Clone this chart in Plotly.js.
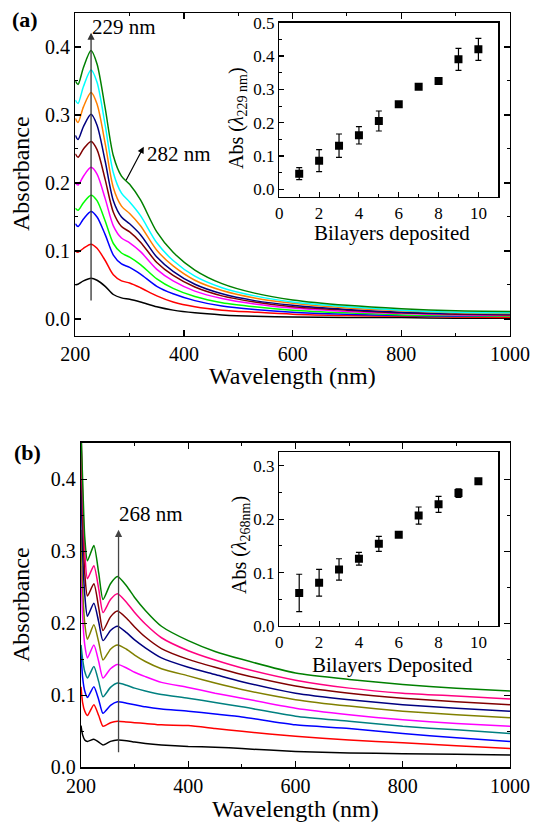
<!DOCTYPE html>
<html>
<head>
<meta charset="utf-8">
<script src="https://cdn.plot.ly/plotly-3.0.1.min.js"></script>
<style>html,body{margin:0;padding:0;background:#fff;}#chart{width:536px;height:826px;}</style>
</head>
<body>
<div id="chart"></div>
<script>
// ---------- Panel (a) spectra ----------
const wlA = [200,205,215,229,240,255,270,285,300,320,350,380,420,470,530,600,700,800,900,1000];
const absA1  = [0.050,0.051,0.056,0.060,0.057,0.048,0.036,0.031,0.029,0.025,0.018,0.013,0.009,0.006,0.004,0.003,0.002,0.002,0.001,0.001];
const absA2  = [0.100,0.098,0.104,0.110,0.104,0.086,0.065,0.056,0.053,0.046,0.034,0.025,0.018,0.013,0.010,0.007,0.005,0.004,0.003,0.002];
const absA3  = [0.140,0.136,0.147,0.158,0.150,0.124,0.094,0.081,0.076,0.066,0.048,0.037,0.027,0.019,0.014,0.010,0.007,0.005,0.004,0.004];
const absA4  = [0.163,0.160,0.171,0.182,0.174,0.144,0.111,0.097,0.091,0.080,0.059,0.045,0.033,0.024,0.018,0.013,0.009,0.006,0.005,0.004];
const absA5  = [0.200,0.197,0.210,0.223,0.213,0.177,0.137,0.119,0.112,0.099,0.073,0.056,0.041,0.030,0.022,0.016,0.011,0.008,0.006,0.005];
const absA6  = [0.243,0.238,0.250,0.261,0.249,0.205,0.157,0.136,0.128,0.113,0.083,0.064,0.047,0.034,0.025,0.018,0.013,0.009,0.007,0.006];
const absA7  = [0.270,0.264,0.283,0.301,0.285,0.232,0.174,0.150,0.140,0.124,0.091,0.070,0.051,0.037,0.027,0.020,0.014,0.010,0.008,0.007];
const absA8  = [0.295,0.289,0.312,0.333,0.316,0.258,0.193,0.166,0.155,0.137,0.101,0.078,0.057,0.042,0.031,0.023,0.016,0.012,0.009,0.008];
const absA9  = [0.322,0.317,0.342,0.366,0.348,0.285,0.215,0.185,0.172,0.152,0.112,0.086,0.063,0.046,0.034,0.025,0.018,0.013,0.010,0.009];
const absA10 = [0.350,0.345,0.370,0.395,0.375,0.310,0.240,0.210,0.198,0.175,0.128,0.098,0.072,0.052,0.038,0.028,0.020,0.015,0.012,0.011];
const colorsA = ['#000000','#ff0000','#0000ff','#00ff00','#ff00ff','#800000','#000080','#ff8000','#00ffff','#008000'];

// ---------- Panel (a) inset ----------
const bilayers = [1,2,3,4,5,6,7,8,9,10];
const insetA = [0.047,0.086,0.131,0.162,0.205,0.255,0.308,0.325,0.390,0.420];
const insetAerr = [0.018,0.033,0.035,0.026,0.030,0.005,0.005,0.005,0.033,0.033];

// ---------- Panel (b) spectra ----------
const wlB = [200,203,207,212,224,233,241,255,268,285,300,320,350,400,450,500,600,700,800,900,1000];
const absB1  = [0.058,0.045,0.038,0.036,0.039,0.035,0.031,0.036,0.038,0.037,0.035,0.033,0.031,0.029,0.028,0.026,0.022,0.020,0.019,0.018,0.017];
const absB2  = [0.112,0.090,0.078,0.072,0.087,0.072,0.057,0.062,0.064,0.063,0.062,0.061,0.059,0.058,0.054,0.050,0.043,0.038,0.034,0.030,0.026];
const absB3  = [0.160,0.125,0.106,0.097,0.112,0.094,0.075,0.086,0.091,0.089,0.087,0.084,0.081,0.078,0.074,0.070,0.059,0.054,0.047,0.041,0.036];
const absB4  = [0.170,0.150,0.133,0.124,0.140,0.119,0.098,0.111,0.117,0.114,0.110,0.106,0.101,0.096,0.090,0.084,0.071,0.064,0.057,0.052,0.047];
const absB5  = [0.280,0.210,0.170,0.152,0.170,0.147,0.124,0.137,0.143,0.138,0.132,0.126,0.118,0.111,0.103,0.096,0.082,0.073,0.066,0.061,0.057];
const absB6  = [0.330,0.250,0.200,0.178,0.198,0.174,0.149,0.164,0.170,0.164,0.156,0.147,0.137,0.127,0.117,0.108,0.094,0.085,0.078,0.073,0.069];
const absB7  = [0.400,0.300,0.240,0.210,0.228,0.202,0.176,0.190,0.196,0.187,0.177,0.166,0.152,0.139,0.129,0.119,0.103,0.094,0.087,0.082,0.078];
const absB8  = [0.460,0.350,0.270,0.238,0.255,0.222,0.190,0.209,0.217,0.207,0.195,0.181,0.165,0.150,0.139,0.129,0.113,0.103,0.096,0.091,0.087];
const absB9  = [0.470,0.380,0.300,0.262,0.280,0.248,0.215,0.233,0.241,0.229,0.215,0.199,0.180,0.162,0.149,0.138,0.121,0.110,0.103,0.099,0.095];
const absB10 = [0.470,0.400,0.320,0.287,0.308,0.270,0.233,0.255,0.265,0.252,0.236,0.218,0.196,0.176,0.161,0.150,0.131,0.122,0.115,0.110,0.106];
const colorsB = ['#000000','#ff0000','#0000ff','#008080','#ff00ff','#808000','#000080','#800000','#ff0080','#008000'];

// ---------- Panel (b) inset ----------
const insetB = [0.062,0.081,0.106,0.126,0.154,0.171,0.207,0.228,0.249,0.271];
const insetBerr = [0.035,0.025,0.020,0.012,0.014,0.004,0.016,0.015,0.008,0.005];

const W = 536, H = 826;
const FONT = "'Liberation Serif', serif";
const px = v => v / W;
const py = v => 1 - v / H;

const seriesA = [absA1,absA2,absA3,absA4,absA5,absA6,absA7,absA8,absA9,absA10];
const seriesB = [absB1,absB2,absB3,absB4,absB5,absB6,absB7,absB8,absB9,absB10];

const traces = [];
seriesA.forEach((ys, i) => traces.push({
  x: wlA, y: ys, type: 'scatter', mode: 'lines', xaxis: 'x', yaxis: 'y',
  line: {color: colorsA[i], width: 1.5, shape: 'spline', smoothing: 0.8}, hoverinfo: 'skip'
}));
traces.push({
  x: bilayers, y: insetA, type: 'scatter', mode: 'markers', xaxis: 'x2', yaxis: 'y2',
  marker: {symbol: 'square', size: 8, color: '#000'},
  error_y: {type: 'data', array: insetAerr, visible: true, color: '#000', thickness: 1.2, width: 3}
});
seriesB.forEach((ys, i) => traces.push({
  x: wlB, y: ys, type: 'scatter', mode: 'lines', xaxis: 'x3', yaxis: 'y3',
  line: {color: colorsB[i], width: 1.5, shape: 'spline', smoothing: 0.6}, hoverinfo: 'skip'
}));
traces.push({
  x: bilayers, y: insetB, type: 'scatter', mode: 'markers', xaxis: 'x4', yaxis: 'y4',
  marker: {symbol: 'square', size: 8, color: '#000'},
  error_y: {type: 'data', array: insetBerr, visible: true, color: '#000', thickness: 1.2, width: 3}
});

function ax(extra, size) {
  return Object.assign({
    showline: true, linecolor: '#000', linewidth: 1.3, mirror: 'ticks',
    ticks: 'inside', ticklen: 6, tickwidth: 1.1, tickcolor: '#000',
    showgrid: false, zeroline: false, fixedrange: true,
    tickfont: {family: FONT, size: size, color: '#000'}
  }, extra);
}
const minorX = {dtick: 100, ticklen: 3, tickwidth: 1, tickcolor: '#000', ticks: 'inside'};

const layout = {
  width: W, height: H, margin: {l: 0, r: 0, t: 0, b: 0},
  font: {family: FONT, color: '#000'},
  paper_bgcolor: '#fff', plot_bgcolor: 'rgba(0,0,0,0)', showlegend: false,
  xaxis: ax({domain: [px(75.3), px(510)], anchor: 'y', range: [200, 1000], dtick: 200, tick0: 200, minor: minorX}, 20),
  yaxis: ax({domain: [py(335.7), py(13)], anchor: 'x', range: [-0.0246, 0.45], dtick: 0.1, tick0: 0, tickformat: '.1f',
    minor: {dtick: 0.05, ticklen: 3, tickwidth: 1, tickcolor: '#000', ticks: 'inside'}}, 20),
  xaxis2: ax({domain: [px(279.3), px(498.3)], anchor: 'y2', range: [0, 11], dtick: 2, tick0: 0, mirror: true, ticklen: 5,
    minor: {dtick: 1, ticklen: 3, tickwidth: 1, tickcolor: '#000', ticks: 'inside'}}, 17),
  yaxis2: ax({domain: [py(197), py(22.7)], anchor: 'x2', range: [-0.023, 0.5], dtick: 0.1, tick0: 0, tickformat: '.1f', mirror: true, ticklen: 5,
    minor: {dtick: 0.05, ticklen: 3, tickwidth: 1, tickcolor: '#000', ticks: 'inside'}}, 17),
  xaxis3: ax({domain: [px(81), px(510)], anchor: 'y3', range: [200, 1000], dtick: 200, tick0: 200, minor: minorX}, 20),
  yaxis3: ax({domain: [py(767.3), py(442.7)], anchor: 'x3', range: [0, 0.451], dtick: 0.1, tick0: 0, tickformat: '.1f',
    minor: {dtick: 0.05, ticklen: 3, tickwidth: 1, tickcolor: '#000', ticks: 'inside'}}, 20),
  xaxis4: ax({domain: [px(279.3), px(498.3)], anchor: 'y4', range: [0, 11], dtick: 2, tick0: 0, mirror: true, ticklen: 5,
    minor: {dtick: 1, ticklen: 3, tickwidth: 1, tickcolor: '#000', ticks: 'inside'}}, 17),
  yaxis4: ax({domain: [py(626), py(452)], anchor: 'x4', range: [0, 0.326], dtick: 0.1, tick0: 0, tickformat: '.1f', mirror: true, ticklen: 5,
    minor: {dtick: 0.05, ticklen: 3, tickwidth: 1, tickcolor: '#000', ticks: 'inside'}}, 17),
  annotations: []
};

const A = layout.annotations;
function paperText(text, x, y, size, extra) {
  A.push(Object.assign({text: text, xref: 'paper', yref: 'paper', x: px(x), y: py(y), showarrow: false,
    xanchor: 'center', yanchor: 'middle', font: {family: FONT, size: size, color: '#000'}}, extra || {}));
}
paperText('<b>(a)</b>', 25, 19, 22);
paperText('<b>(b)</b>', 27, 452, 22);
paperText('Absorbance', 21, 174, 24, {textangle: -90});
paperText('Absorbance', 21, 605, 24, {textangle: -90});
paperText('Wavelength (nm)', 292.6, 376, 24);
paperText('Wavelength (nm)', 295.5, 809, 24);
paperText('Bilayers deposited', 392, 233, 21);
paperText('Bilayers Deposited', 392, 665, 21);
paperText('Abs (<i>λ</i><sub>229 nm</sub>)', 238, 118, 20, {textangle: -90});
paperText('Abs (<i>λ</i><sub>268nm</sub>)', 240, 545, 20, {textangle: -90});

// arrows and labels in data coordinates
A.push({xref: 'x', yref: 'y', axref: 'x', ayref: 'y', x: 229, y: 0.421, ax: 229, ay: 0.025, text: '',
  showarrow: true, arrowhead: 2, arrowsize: 1.1, arrowwidth: 1.3, arrowcolor: '#333'});
A.push({xref: 'x', yref: 'y', x: 290, y: 0.43, text: '229 nm', showarrow: false,
  font: {family: FONT, size: 21, color: '#000'}});
A.push({xref: 'x', yref: 'y', axref: 'x', ayref: 'y', x: 326, y: 0.2534, ax: 292, ay: 0.2019, text: '',
  showarrow: true, arrowhead: 2, arrowsize: 1.1, arrowwidth: 1.2, arrowcolor: '#000'});
A.push({xref: 'x', yref: 'y', x: 390, y: 0.2426, text: '282 nm', showarrow: false,
  font: {family: FONT, size: 21, color: '#000'}});
A.push({xref: 'x3', yref: 'y3', axref: 'x3', ayref: 'y3', x: 270, y: 0.33, ax: 270, ay: 0.019, text: '',
  showarrow: true, arrowhead: 2, arrowsize: 1.1, arrowwidth: 1.3, arrowcolor: '#444'});
A.push({xref: 'x3', yref: 'y3', x: 330, y: 0.352, text: '268 nm', showarrow: false,
  font: {family: FONT, size: 21, color: '#000'}});

Plotly.newPlot('chart', traces, layout, {staticPlot: true, displayModeBar: false});
</script>
</body>
</html>
